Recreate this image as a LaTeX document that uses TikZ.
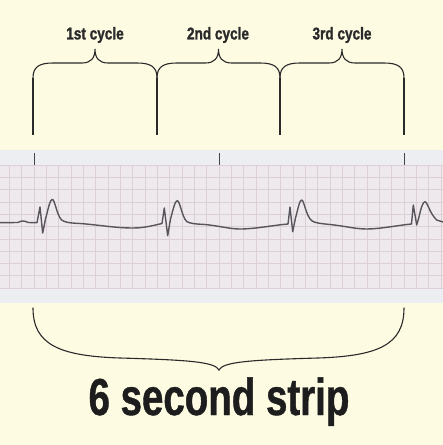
\documentclass[tikz,border=0pt]{standalone}
\usepackage{fontspec}
\newfontfamily\condsmall{Liberation Sans}[FakeStretch=0.8, BoldFeatures={FakeBold=1.2}]
\newfontfamily\condbig{Liberation Sans}[FakeStretch=0.74, BoldFeatures={FakeBold=0.8}]
\definecolor{cream}{HTML}{FDFBE2}
\definecolor{band}{HTML}{EDEEF1}
\definecolor{paper}{HTML}{EEE9EC}
\definecolor{gridc}{HTML}{DCD0D6}
\definecolor{inkc}{HTML}{2A2A2A}
\definecolor{tracec}{HTML}{58545C}
\tikzset{
  bracestyle/.style={draw=inkc, line width=1.1pt, line cap=round},
  guide/.style={draw=inkc, line width=1.1pt},
  gridline/.style={draw=gridc, line width=0.5pt},
  tickmark/.style={draw=tracec!80!black, line width=1pt},
  trace/.style={draw=tracec, line width=1.4pt, line join=round},
  smalllabel/.style={font=\condsmall\bfseries\fontsize{17}{20}\selectfont, text=inkc, inner sep=0pt},
  biglabel/.style={font=\condbig\bfseries\fontsize{52}{60}\selectfont, text=inkc!70!black, inner sep=0pt}
}
\begin{document}
\begin{tikzpicture}[x=1pt,y=-1pt]
\useasboundingbox (0,0) rectangle (443,445);
\fill[cream] (0,0) rectangle (443,445);
% strip
\fill[band] (0,150) rectangle (443,303);
\fill[paper] (0,165) rectangle (443,288);
\foreach \k in {-2,...,33} {
  \draw[gridline] ({34+\k*12.333},165) -- ({34+\k*12.333},288);
}
\foreach \k in {0,...,10} {
  \draw[gridline] (0,{165+\k*12.3}) -- (443,{165+\k*12.3});
}
% tick marks
\foreach \x in {34,219,404} {
  \draw[tickmark] (\x,153) -- (\x,165);
}
% trace
\draw[trace]
 (0,222.7) -- (18,222.5) .. controls (21,220.5) and (25,220.5) .. (28,222.5) -- (37,222.7)
 -- (40,207) -- (42.7,233) -- (45.5,219)
 .. controls (48,210) and (50,199) .. (52.3,199.3)
 .. controls (55,200) and (57,216) .. (61.7,220)
 .. controls (65,222.5) and (70,223) .. (80,223.5)
 .. controls (100,225) and (115,228) .. (133,228)
 .. controls (145,228) and (155,225) .. (162,223.5)
 -- (164.3,208) -- (167.7,235.7) -- (170.5,219)
 .. controls (173,210) and (175,200.5) .. (177.3,200.7)
 .. controls (180,201) and (182,217) .. (186.7,221.5)
 .. controls (190,223.5) and (195,224) .. (205,224.5)
 .. controls (220,226) and (230,229) .. (240,229)
 .. controls (255,229) and (275,225) .. (288,224)
 -- (290,207) -- (292.7,231.7) -- (295.5,218)
 .. controls (298,209) and (299.5,200) .. (301.7,200)
 .. controls (304,200) and (306,216) .. (311.7,220.7)
 .. controls (315,223) and (320,223.5) .. (330,224.5)
 .. controls (345,226) and (355,229) .. (366.7,229)
 .. controls (380,229) and (400,225) .. (411.5,224)
 -- (413.3,205) -- (416.7,225) -- (419,217)
 .. controls (421,208) and (423,201.5) .. (425,201.7)
 .. controls (427.5,202) and (430,214) .. (436.7,220)
 -- (443,222);
% top braces
\foreach \a/\b in {33/157,157/280,280/404} {
  \pgfmathsetmacro{\m}{(\a+\b)/2}
  \draw[bracestyle] (\a,78) .. controls (\a,67) and ({\a+6},63) .. ({\a+20},63)
    -- ({\m-13},63) .. controls ({\m-4},63) and (\m,58) .. (\m,49)
    .. controls (\m,58) and ({\m+4},63) .. ({\m+13},63)
    -- ({\b-20},63) .. controls ({\b-6},63) and (\b,67) .. (\b,78);
}
\foreach \x in {33,157,280,404} {
  \draw[guide] (\x,78) -- (\x,135);
}
\node[smalllabel] (c1) at (95,35) {1st cycle};
\node[smalllabel] (c2) at (218,35) {2nd cycle};
\node[smalllabel] (c3) at (342,35) {3rd cycle};
% bottom brace
\draw[bracestyle] (33,308) .. controls (33,345) and (60,356) .. (120,358)
  .. controls (190,360) and (215,362) .. (219,370)
  .. controls (223,362) and (248,360) .. (318,358)
  .. controls (378,356) and (404,345) .. (404,308);
\node[biglabel, anchor=base] (strip) at (219,415) {6 second strip};
\end{tikzpicture}
\end{document}
